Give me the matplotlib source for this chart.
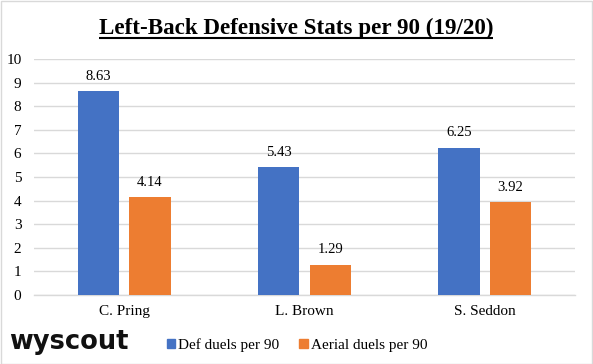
import matplotlib
matplotlib.use("Agg")
import matplotlib.pyplot as plt
from matplotlib.lines import Line2D
from matplotlib.patches import Rectangle, Patch
import numpy as np

players = ["C. Pring", "L. Brown", "S. Seddon"]
def_duels = [8.63, 5.43, 6.25]
aerial_duels = [4.14, 1.29, 3.92]
series_names = ["Def duels per 90", "Aerial duels per 90"]
yticks = list(range(0, 11))
title = "Left-Back Defensive Stats per 90 (19/20)"

BLUE = "#4472C4"
ORANGE = "#ED7D31"
SERIF = ["Liberation Serif", "DejaVu Serif"]

W, H = 593, 364
fig = plt.figure(figsize=(W / 100, H / 100), dpi=100)
ax = fig.add_axes([34 / W, 1 - 295 / H, (575 - 34) / W, (295 - 59) / H])

x = np.arange(len(players))
bw = 0.228
off = 0.143
b1 = ax.bar(x - off, def_duels, bw, color=BLUE, zorder=3)
b2 = ax.bar(x + off, aerial_duels, bw, color=ORANGE, zorder=3)

for bars, vals in ((b1, def_duels), (b2, aerial_duels)):
    for r, v in zip(bars, vals):
        ax.annotate(f"{v:.2f}", (r.get_x() + r.get_width() / 2, v),
                    xytext=(0, 6), textcoords="offset points",
                    ha="center", va="bottom", fontsize=10.5, family=SERIF,
                    color="#000000")

ax.set_xlim(-0.5, 2.5)
ax.set_ylim(0, 10)
ax.set_yticks(yticks)
ax.set_yticklabels([str(t) for t in yticks], family=SERIF, fontsize=11)
ax.set_xticks(x)
ax.set_xticklabels(players, family=SERIF, fontsize=11)
ax.tick_params(length=0)
ax.tick_params(axis="y", pad=9)
ax.tick_params(axis="x", pad=7)
ax.grid(axis="y", color="#D9D9D9", linewidth=1, zorder=0)
for s in ["top", "right", "left"]:
    ax.spines[s].set_visible(False)
ax.spines["bottom"].set_color("#D9D9D9")
ax.spines["bottom"].set_linewidth(1)

# title with underline
t = fig.text(296 / W, 1 - 34 / H, title, ha="center", va="baseline",
             fontsize=16.6, fontweight="bold", family=SERIF)
fig.canvas.draw()
bb = t.get_window_extent(renderer=fig.canvas.get_renderer())
uy = 1 - 38 / H
fig.add_artist(Line2D([bb.x0 / W, bb.x1 / W], [uy, uy], transform=fig.transFigure,
                      color="black", linewidth=1.5, solid_capstyle="butt"))

# legend
handles = [Patch(color=BLUE, label=series_names[0]),
           Patch(color=ORANGE, label=series_names[1])]
fig.legend(handles=handles, loc="center", bbox_to_anchor=(297 / W, 1 - 345 / H),
           ncol=2, frameon=False, prop={"family": SERIF, "size": 11},
           handlelength=0.55, handleheight=0.55, handletextpad=0.2,
           columnspacing=1.3)

# logo text
fig.text(9 / W, 1 - 349 / H, "wyscout", ha="left", va="baseline",
         fontsize=18.5, fontweight="bold", family="DejaVu Sans", color="#111111")

# border
fig.add_artist(Rectangle((0.5 / W, 0.5 / H), 1 - 1.5 / W, 1 - 1.5 / H,
                         transform=fig.transFigure, fill=False,
                         edgecolor="#D9D9D9", linewidth=1))

fig.savefig("out.png", dpi=100)
